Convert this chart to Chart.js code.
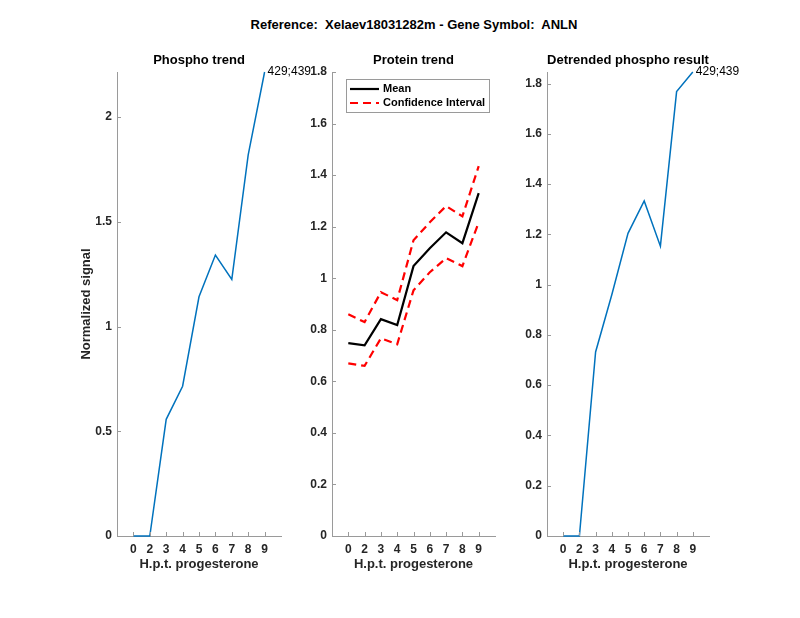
<!DOCTYPE html>
<html>
<head>
<meta charset="utf-8">
<script src="https://cdn.jsdelivr.net/npm/chart.js@4.4.1/dist/chart.umd.min.js"></script>
<style>
  html, body { margin: 0; padding: 0; background: #fff; }
  #fig { position: relative; width: 800px; height: 618px; overflow: hidden; font-family: "Liberation Sans", Arial, sans-serif; }
  #supTitle { position: absolute; left: 0; top: 17px; width: 828px; text-align: center; font-weight: bold; font-size: 13px; color: #000; white-space: pre; }
  canvas { position: absolute; top: 40px; }
</style>
</head>
<body>
<div id="fig">
  <div id="supTitle">Reference:  Xelaev18031282m - Gene Symbol:  ANLN</div>
  <canvas id="cPhospho" width="320" height="560" style="left:0px"></canvas>
  <canvas id="cProtein" width="215" height="560" style="left:300px"></canvas>
  <canvas id="cDetrend" width="285" height="560" style="left:515px"></canvas>
</div>
<script>
// ---- datos ----
const timepoints = ['0', '2', '3', '4', '5', '6', '7', '8', '9'];
const phosphoTrend = [0, 0, 0.557, 0.715, 1.142, 1.341, 1.225, 1.819, 2.215];
const proteinMean  = [0.748, 0.740, 0.841, 0.818, 1.047, 1.116, 1.178, 1.136, 1.330];
const proteinUpper = [0.860, 0.830, 0.946, 0.915, 1.147, 1.217, 1.280, 1.240, 1.435];
const proteinLower = [0.670, 0.660, 0.767, 0.744, 0.953, 1.023, 1.078, 1.047, 1.217];
const detrended    = [0, 0, 0.732, 0.960, 1.204, 1.333, 1.153, 1.768, 1.846];
const peptideLabel = '429;439';

const FONT = '"Liberation Sans", Arial, sans-serif';
const AXIS_COLOR = '#9a9a9a';
const TEXT_COLOR = '#262626';
const BLUE = '#0072BD';

Chart.defaults.font.family = FONT;
Chart.defaults.color = TEXT_COLOR;

const toXY = (vals) => vals.map((v, i) => ({ x: i + 1, y: v }));

// ticks hacia adentro (estilo matlab)
const inwardTicks = {
    id: 'inwardTicks',
    afterDraw(chart) {
        const { ctx, chartArea } = chart;
        const x = chart.scales.x, y = chart.scales.y;
        ctx.save();
        ctx.strokeStyle = AXIS_COLOR;
        ctx.lineWidth = 1;
        ctx.beginPath();
        x.ticks.forEach(t => {
            const px = Math.round(x.getPixelForValue(t.value)) + 0.5;
            ctx.moveTo(px, chartArea.bottom);
            ctx.lineTo(px, chartArea.bottom - 4);
        });
        y.ticks.forEach(t => {
            const py = Math.round(y.getPixelForValue(t.value)) + 0.5;
            ctx.moveTo(chartArea.left, py);
            ctx.lineTo(chartArea.left + 4, py);
        });
        ctx.stroke();
        ctx.restore();
    }
};

// titulo centrado sobre el area de ejes
const axesTitle = {
    id: 'axesTitle',
    afterDraw(chart, args, opts) {
        if (!opts || !opts.text) return;
        const { ctx, chartArea } = chart;
        ctx.save();
        ctx.font = 'bold 13px ' + FONT;
        ctx.fillStyle = '#000';
        ctx.textAlign = 'center';
        ctx.textBaseline = 'middle';
        ctx.fillText(opts.text, (chartArea.left + chartArea.right) / 2, chartArea.top - 12);
        ctx.restore();
    }
};

// etiqueta al final de la linea
const endLabel = {
    id: 'endLabel',
    afterDatasetsDraw(chart, args, opts) {
        if (!opts || !opts.text) return;
        const meta = chart.getDatasetMeta(0);
        const last = meta.data[meta.data.length - 1];
        const { ctx } = chart;
        ctx.save();
        ctx.font = '12px ' + FONT;
        ctx.fillStyle = '#000';
        ctx.textAlign = 'left';
        ctx.textBaseline = 'middle';
        ctx.fillText(opts.text, last.x + 3, last.y);
        ctx.restore();
    }
};

// leyenda con recuadro dentro del area
const boxLegend = {
    id: 'boxLegend',
    afterDraw(chart, args, opts) {
        if (!opts || !opts.display) return;
        const { ctx, chartArea } = chart;
        const items = chart.data.datasets.filter(d => d.inLegend);
        const x0 = chartArea.left + 14, y0 = chartArea.top + 7;
        const w = 143, rowH = 14, h = rowH * items.length + 5;
        ctx.save();
        ctx.fillStyle = '#fff';
        ctx.fillRect(x0, y0, w, h);
        ctx.strokeStyle = AXIS_COLOR;
        ctx.lineWidth = 1;
        ctx.strokeRect(x0 + 0.5, y0 + 0.5, w, h);
        items.forEach((d, i) => {
            const cy = y0 + 10 + i * rowH;
            ctx.strokeStyle = d.borderColor;
            ctx.lineWidth = d.borderWidth;
            ctx.setLineDash(d.borderDash || []);
            ctx.beginPath();
            ctx.moveTo(x0 + 4, cy);
            ctx.lineTo(x0 + 33, cy);
            ctx.stroke();
            ctx.setLineDash([]);
            ctx.font = 'bold 11px ' + FONT;
            ctx.fillStyle = '#000';
            ctx.textBaseline = 'middle';
            ctx.fillText(d.label, x0 + 37, cy);
        });
        ctx.restore();
    }
};

function buildChart(canvasId, titulo, datasets, yCfg, layoutCfg, extra) {
    const ctx = document.getElementById(canvasId).getContext('2d');
    return new Chart(ctx, {
        type: 'line',
        data: { datasets: datasets },
        options: {
            responsive: false,
            animation: false,
            events: [],
            layout: { padding: layoutCfg.padding },
            elements: { point: { radius: 0 }, line: { tension: 0 } },
            plugins: {
                legend: { display: false },
                tooltip: { enabled: false },
                title: { display: false },
                axesTitle: { text: titulo },
                endLabel: extra.endLabel || {},
                boxLegend: extra.boxLegend || {}
            },
            scales: {
                x: {
                    type: 'linear', min: 0, max: 10,
                    afterBuildTicks: (axis) => { axis.ticks = timepoints.map((t, i) => ({ value: i + 1 })); },
                    afterFit: (axis) => { axis.height = 40; },
                    grid: { display: false, drawTicks: false },
                    border: { display: true, color: AXIS_COLOR, width: 1 },
                    ticks: {
                        autoSkip: false, maxRotation: 0, padding: 6,
                        color: TEXT_COLOR, font: { size: 12, weight: 'bold' },
                        callback: (v) => timepoints[v - 1]
                    },
                    title: {
                        display: true, text: 'H.p.t. progesterone', color: TEXT_COLOR,
                        font: { size: 13, weight: 'bold' }, padding: { top: 4, bottom: 4 }
                    }
                },
                y: {
                    min: 0, max: yCfg.max,
                    afterFit: (axis) => { axis.width = layoutCfg.yWidth; },
                    grid: { display: false, drawTicks: false },
                    border: { display: true, color: AXIS_COLOR, width: 1 },
                    ticks: {
                        stepSize: yCfg.step, includeBounds: false, padding: 5,
                        color: TEXT_COLOR, font: { size: 12, weight: 'bold' },
                        callback: (v) => String(parseFloat(v.toFixed(2)))
                    },
                    title: yCfg.title ? {
                        display: true, text: yCfg.title, color: TEXT_COLOR,
                        font: { size: 13, weight: 'bold' }, padding: { top: 4, bottom: 4 }
                    } : { display: false }
                }
            }
        },
        plugins: [inwardTicks, axesTitle, endLabel, boxLegend]
    });
}

// 1. phospho trend
buildChart('cPhospho', 'Phospho trend',
    [{ data: toXY(phosphoTrend), borderColor: BLUE, borderWidth: 1.5, clip: false }],
    { max: Math.max(...phosphoTrend), step: 0.5, title: 'Normalized signal' },
    { padding: { left: 75, right: 39, top: 32, bottom: 24 }, yWidth: 42 },
    { endLabel: { text: peptideLabel } });

// 2. protein trend
buildChart('cProtein', 'Protein trend',
    [
        { label: 'Mean', inLegend: true, data: toXY(proteinMean), borderColor: '#000', borderWidth: 2.2, clip: false },
        { label: 'Confidence Interval', inLegend: true, data: toXY(proteinUpper), borderColor: '#ff0000', borderWidth: 2.2, borderDash: [8, 5], clip: false },
        { label: 'Confidence Interval', inLegend: false, data: toXY(proteinLower), borderColor: '#ff0000', borderWidth: 2.2, borderDash: [8, 5], clip: false }
    ],
    { max: 1.8, step: 0.2 },
    { padding: { left: 0, right: 20, top: 32, bottom: 24 }, yWidth: 32 },
    { boxLegend: { display: true } });

// 3. detrended
buildChart('cDetrend', 'Detrended phospho result',
    [{ data: toXY(detrended), borderColor: BLUE, borderWidth: 1.5, clip: false }],
    { max: Math.max(...detrended), step: 0.2 },
    { padding: { left: 0, right: 91, top: 32, bottom: 24 }, yWidth: 32 },
    { endLabel: { text: peptideLabel } });
</script>
</body>
</html>
